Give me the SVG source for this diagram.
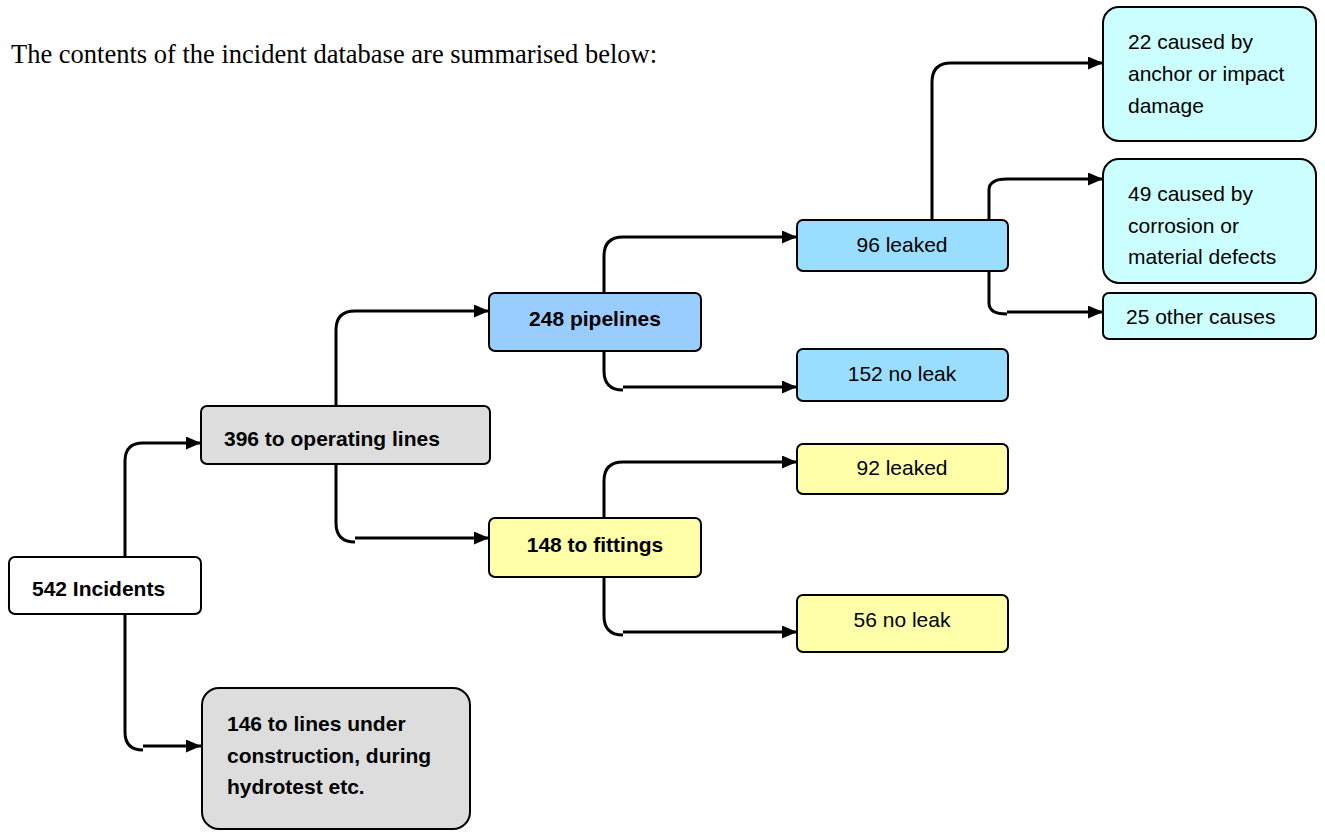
<svg xmlns="http://www.w3.org/2000/svg" width="1325" height="832" viewBox="0 0 1325 832">
  <style>
    .box { stroke: #000; stroke-width: 2; }
    .t { font-family: "Liberation Sans", Arial, sans-serif; font-size: 21px; fill: #000; }
    .b { font-weight: bold; }
    .m { text-anchor: middle; }
    .title { font-family: "Liberation Serif", "Times New Roman", serif; font-size: 26.5px; fill: #000; }
    .c { fill: none; stroke: #000; stroke-width: 3; }
    .gray { fill: #dddddd; }
    .blue { fill: #99ccff; }
    .sky { fill: #99ddff; }
    .cyan { fill: #ccffff; }
    .yel { fill: #ffffaa; }
  </style>
  <defs>
    <marker id="arr" markerUnits="userSpaceOnUse" markerWidth="16" markerHeight="14" refX="15" refY="6.5" orient="auto">
      <path d="M0,0 L15,6.5 L0,13 z" fill="#000"/>
    </marker>
  </defs>

  <text class="title" x="11" y="63">The contents of the incident database are summarised below:</text>

  <g id="connectors">
    <path class="c" d="M125,557 V461 Q125,443 143,443 H201" marker-end="url(#arr)"/>
    <path class="c" d="M125,614 V732 Q125,750 143,750 M143,746 H201" marker-end="url(#arr)"/>
    <path class="c" d="M336,406 V330 Q336,311 355,311 H489" marker-end="url(#arr)"/>
    <path class="c" d="M336,464 V523 Q336,542 355,542 M355,538 H489" marker-end="url(#arr)"/>
    <path class="c" d="M604,293 V256 Q604,237 623,237 H797" marker-end="url(#arr)"/>
    <path class="c" d="M604,351 V371 Q604,390 623,390 M623,387 H797" marker-end="url(#arr)"/>
    <path class="c" d="M604,518 V481 Q604,462 623,462 H797" marker-end="url(#arr)"/>
    <path class="c" d="M604,577 V616 Q604,635 623,635 M623,632 H797" marker-end="url(#arr)"/>
    <path class="c" d="M932,220 V82 Q932,63 951,63 H1103" marker-end="url(#arr)"/>
    <path class="c" d="M989,220 V190 Q989,179 1007,179 H1103" marker-end="url(#arr)"/>
    <path class="c" d="M989,272 V303 Q989,314 1007,314 M1007,312 H1103" marker-end="url(#arr)"/>
  </g>

  <g id="n542">
    <rect class="box" x="9" y="557" width="192" height="57" rx="6" fill="#fff"/>
    <text class="t b" x="32" y="596">542 Incidents</text>
  </g>
  <g id="n396">
    <rect class="box gray" x="201" y="406" width="289" height="58" rx="6"/>
    <text class="t b" x="224" y="446">396 to operating lines</text>
  </g>
  <g id="n146">
    <rect class="box gray" x="202" y="688" width="268" height="141" rx="17"/>
    <text class="t b" x="227" y="731">146 to lines under</text>
    <text class="t b" x="227" y="763">construction, during</text>
    <text class="t b" x="227" y="794">hydrotest etc.</text>
  </g>
  <g id="n248">
    <rect class="box blue" x="489" y="293" width="212" height="58" rx="6"/>
    <text class="t b m" x="595" y="326">248 pipelines</text>
  </g>
  <g id="n148">
    <rect class="box yel" x="489" y="518" width="212" height="59" rx="6"/>
    <text class="t b m" x="595" y="552">148 to fittings</text>
  </g>
  <g id="n96">
    <rect class="box sky" x="797" y="220" width="211" height="51" rx="6"/>
    <text class="t m" x="902" y="252">96 leaked</text>
  </g>
  <g id="n152">
    <rect class="box sky" x="797" y="349" width="211" height="52" rx="6"/>
    <text class="t m" x="902" y="381">152 no leak</text>
  </g>
  <g id="n92">
    <rect class="box yel" x="797" y="444" width="211" height="50" rx="6"/>
    <text class="t m" x="902" y="475">92 leaked</text>
  </g>
  <g id="n56">
    <rect class="box yel" x="797" y="595" width="211" height="57" rx="6"/>
    <text class="t m" x="902" y="627">56 no leak</text>
  </g>
  <g id="n22">
    <rect class="box cyan" x="1103" y="7" width="213" height="134" rx="16"/>
    <text class="t" x="1128" y="49">22 caused by</text>
    <text class="t" x="1128" y="81">anchor or impact</text>
    <text class="t" x="1128" y="113">damage</text>
  </g>
  <g id="n49">
    <rect class="box cyan" x="1103" y="159" width="213" height="124" rx="16"/>
    <text class="t" x="1128" y="201">49 caused by</text>
    <text class="t" x="1128" y="233">corrosion or</text>
    <text class="t" x="1128" y="264">material defects</text>
  </g>
  <g id="n25">
    <rect class="box cyan" x="1103" y="293" width="213" height="46" rx="6"/>
    <text class="t" x="1126" y="324">25 other causes</text>
  </g>
</svg>
